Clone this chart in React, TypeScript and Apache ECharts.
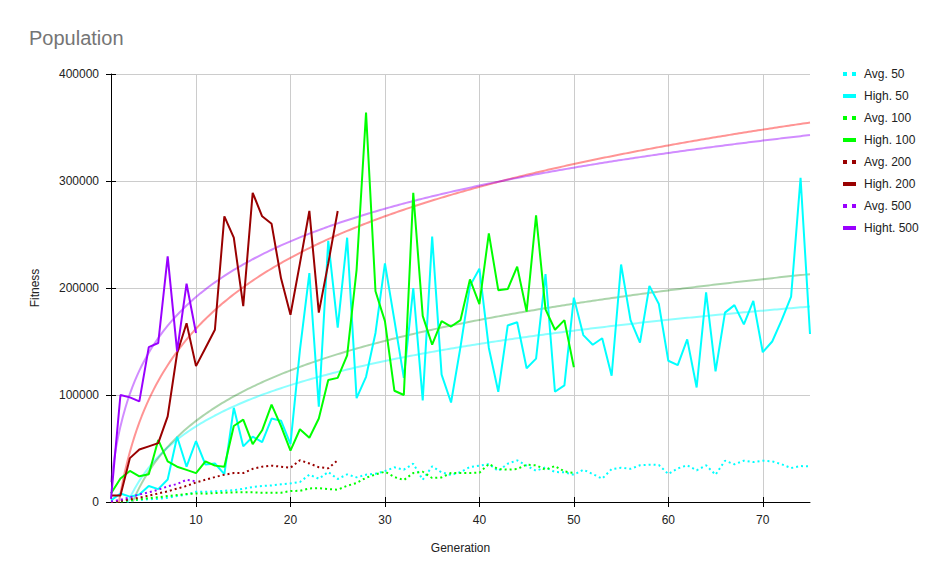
import React, { useEffect, useRef } from "react";
import * as echarts from "echarts";

const seriesNames = ["Avg. 50", "High. 50", "Avg. 100", "High. 100", "Avg. 200", "High. 200", "Avg. 500", "Hight. 500"];

const avg50 = [
  500, 1000, 1500, 2000, 2500, 3000, 4000, 5500, 7000, 9500,
  9500, 10000, 10500, 11000, 12400, 14000, 14900, 15500, 16500, 17400,
  18700, 25500, 21800, 28000, 21500, 25800, 23000, 25500, 26400, 28900,
  32400, 30200, 35800, 20800, 33300, 27700, 25200, 28000, 32700, 33900,
  35500, 29000, 35800, 38900, 33900, 29200, 32400, 28000, 27700, 25500,
  30200, 26100, 21800, 30800, 32000, 31000, 34300, 34900, 34600, 26100,
  31400, 34300, 29600, 34300, 25500, 38600, 35200, 38600, 37300, 38600,
  38000, 35200, 31700, 33600, 33300,
];
const high50 = [
  1500, 8000, 5000, 7000, 15000, 12000, 21000, 61000, 33000, 57000,
  35000, 36000, 26000, 88000, 52000, 61000, 56000, 78000, 76000, 54000,
  142000, 214000, 89000, 244000, 163000, 247000, 97000, 117000, 158000, 223000,
  170000, 116000, 200000, 95000, 248000, 119000, 93000, 145000, 202000, 218000,
  144000, 103000, 165000, 168000, 125000, 134000, 213000, 103000, 109000, 191000,
  156000, 147000, 153000, 118000, 222000, 170000, 149000, 202000, 185000, 132000,
  128000, 152000, 107000, 196000, 122000, 177000, 184000, 166000, 188000, 140000,
  150000, 170000, 192000, 303000, 157000,
];
const avg100 = [
  0, 500, 1500, 2500, 3500, 4500, 5500, 6500, 7500, 8000,
  7800, 8400, 8700, 9000, 9000, 9000, 8700, 8700, 8700, 10200,
  10500, 12700, 13000, 12100, 11500, 15200, 17700, 22700, 25800, 28300,
  23300, 20500, 27100, 28300, 22400, 23000, 27100, 27100, 27100, 27400,
  35500, 30800, 30200, 30800, 34900, 34300, 30200, 33600, 28600, 27100,
];
const high100 = [
  8000, 22000, 29000, 24000, 26000, 58000, 38000, 33000, 30000, 27000,
  38000, 34000, 33000, 71000, 77000, 54000, 67000, 91000, 71000, 48000,
  68000, 60000, 78000, 114000, 116000, 137000, 217000, 364000, 197000, 169000,
  104000, 100000, 289000, 174000, 147000, 169000, 164000, 170000, 208000, 185000,
  251000, 198000, 199000, 220000, 178000, 268000, 180000, 161000, 170000, 126000,
];
const avg200 = [
  0, 1000, 2500, 4000, 6000, 8000, 10000, 12500, 15000, 18300,
  20800, 23300, 25500, 27000, 27000, 31000, 33000, 34000, 33000, 32000,
  39000, 36000, 32500, 31500, 39000,
];
const high200 = [
  6000, 6000, 41000, 49000, 52000, 55000, 80000, 139000, 167000, 127000,
  144000, 161000, 267000, 247000, 183000, 289000, 267000, 260000, 209000, 175000,
  223000, 272000, 177000, 223000, 272000,
];
const avg500 = [500, 2000, 4300, 7000, 9000, 11500, 14600, 16800, 20800, 19300];
const high500 = [3000, 100000, 97800, 94000, 144800, 148600, 229600, 140800, 204000, 158000];

const xTicks = [10, 20, 30, 40, 50, 60, 70];
const xMin = 1;
const xMax = 75;

const FONT = "'Liberation Sans', Arial, sans-serif";

function toPairs(arr: number[]) {
  return arr.map((v, i) => [i + 1, v]);
}

// Logarithmic least-squares trendline fitted to the data, drawn across the axis range
function logTrend(arr: number[]) {
  const n = arr.length;
  let sx = 0, sy = 0, sxx = 0, sxy = 0;
  arr.forEach((v, i) => {
    const lx = Math.log(i + 1);
    sx += lx; sy += v; sxx += lx * lx; sxy += lx * v;
  });
  const a = (n * sxy - sx * sy) / (n * sxx - sx * sx);
  const b = (sy - a * sx) / n;
  const pts: number[][] = [];
  for (let x = xMin; x <= xMax + 1e-9; x += 0.25) {
    pts.push([x, a * Math.log(x) + b]);
  }
  return pts;
}

const dotIcon = "path://M0,0h4v4h-4zM9,0h4v4h-4z";

export default function App() {
  const ref = useRef<HTMLDivElement>(null);
  useEffect(() => {
    if (!ref.current) return;
    const chart = echarts.init(ref.current, undefined, { renderer: "svg" });

    const colors = ["#00ffff", "#00ffff", "#00ff00", "#00ff00", "#990000", "#990000", "#9900ff", "#9900ff"];
    const dataSets = [avg50, high50, avg100, high100, avg200, high200, avg500, high500];
    const trendColors: Record<number, string> = {
      1: "rgba(0,255,255,0.45)",
      3: "rgba(0,128,0,0.33)",
      5: "rgba(255,0,0,0.42)",
      7: "rgba(153,0,255,0.45)",
    };

    const trendSeries = [1, 3, 5, 7].map((i) => ({
      name: seriesNames[i] + " trend",
      type: "line",
      data: logTrend(dataSets[i]),
      showSymbol: false,
      symbol: "none",
      clip: true,
      silent: true,
      lineStyle: { color: trendColors[i], width: 2 },
      z: 1,
    }));

    const mainSeries = seriesNames.map((name, i) => ({
      name,
      type: "line",
      data: toPairs(dataSets[i]),
      symbol: "none",
      showSymbol: false,
      clip: true,
      color: colors[i],
      lineStyle: {
        color: colors[i],
        width: 2,
        type: i % 2 === 0 ? [2, 3] : "solid",
      },
      z: 2 + i,
    }));

    chart.setOption({
      animation: false,
      backgroundColor: "#ffffff",
      textStyle: { fontFamily: FONT },
      title: {
        text: "Population",
        left: 24,
        top: 23,
        textStyle: { fontSize: 20, color: "#757575", fontWeight: "normal", fontFamily: FONT },
      },
      legend: {
        orient: "vertical",
        left: 838,
        top: 62,
        itemWidth: 13,
        itemHeight: 4,
        itemGap: 8,
        textStyle: { fontSize: 12, color: "#222222", fontFamily: FONT, lineHeight: 14, padding: [0, 0, 0, 3] },
        data: seriesNames.map((n, i) => ({ name: n, icon: i % 2 === 0 ? dotIcon : "rect" })),
      },
      grid: { left: 111, right: 138, top: 74, bottom: 84, containLabel: false },
      xAxis: [
        {
          type: "value",
          min: xMin,
          max: xMax,
          name: "Generation",
          nameLocation: "middle",
          nameGap: 40,
          nameTextStyle: { fontSize: 12, color: "#222222", fontFamily: FONT },
          axisLine: { show: true, lineStyle: { color: "#000000", width: 1 } },
          axisTick: { show: true, length: 5, lineStyle: { color: "#000000" }, customValues: xTicks },
          axisLabel: { fontSize: 12, color: "#222222", margin: 12, customValues: xTicks, fontFamily: FONT },
          splitLine: { show: true, lineStyle: { color: "#cccccc", width: 1 } },
        },
        {
          type: "value",
          min: xMin,
          max: xMax,
          position: "bottom",
          axisLine: { show: false },
          axisTick: { show: true, inside: true, length: 5, lineStyle: { color: "#000000" }, customValues: xTicks },
          axisLabel: { show: false },
          splitLine: { show: false },
        },
      ],
      yAxis: [
        {
          type: "value",
          min: 0,
          max: 400000,
          interval: 100000,
          name: "Fitness",
          nameLocation: "middle",
          nameGap: 70,
          nameTextStyle: { fontSize: 12, color: "#222222", fontFamily: FONT },
          axisLine: { show: true, lineStyle: { color: "#000000", width: 1 } },
          axisTick: { show: true, length: 5, lineStyle: { color: "#000000" } },
          axisLabel: { fontSize: 12, color: "#222222", margin: 12, fontFamily: FONT, formatter: (v: number) => String(v) },
          splitLine: { show: true, lineStyle: { color: "#cccccc", width: 1 } },
        },
        {
          type: "value",
          min: 0,
          max: 400000,
          interval: 100000,
          position: "left",
          axisLine: { show: false },
          axisTick: { show: true, inside: true, length: 5, lineStyle: { color: "#000000" } },
          axisLabel: { show: false },
          splitLine: { show: false },
        },
      ],
      series: [...trendSeries, ...mainSeries],
    });

    return () => chart.dispose();
  }, []);

  return <div ref={ref} style={{ width: 948, height: 586, position: "absolute", left: 0, top: 0 }} />;
}
